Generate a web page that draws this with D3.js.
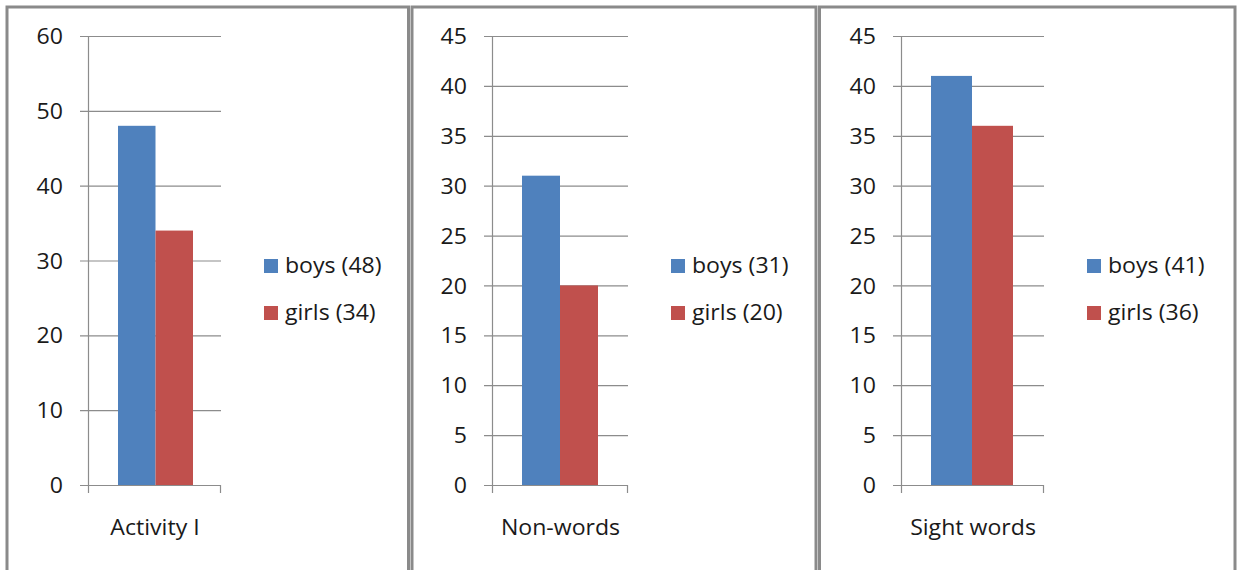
<!DOCTYPE html>
<html>
<head>
<meta charset="utf-8">
<script src="https://cdn.jsdelivr.net/npm/d3@7"></script>
<style>
  html, body { margin: 0; padding: 0; background: #fff; }
  svg text { font-family: "Open Sans", Lato, sans-serif; fill: #1a1a1a; }
</style>
</head>
<body>
<svg id="chart" width="1239" height="570"></svg>
<script>
// Reading test results, boys vs girls, per activity
const activities = ["Activity I", "Non-words", "Sight words"];
const boys = [48, 31, 41];
const girls = [34, 20, 36];
const yMax = [60, 45, 45];
const yStep = [10, 5, 5];
const seriesNames = ["boys", "girls"];
const seriesColors = ["#4F81BD", "#C0504D"];

// panel frame and plot geometry
const panels = [
  { x0: 7, x1: 408.5, axisX: 88, plotR: 221, barL: 118, barW: 37.5, legX: 264 },
  { x0: 412, x1: 816, axisX: 492, plotR: 628, barL: 522, barW: 38, legX: 671 },
  { x0: 819.5, x1: 1235, axisX: 901, plotR: 1044, barL: 931, barW: 41, legX: 1087 }
];
const plotTop = 36, plotBottom = 485;
const FS = 21;          // label font size
const SX = 1.1;         // slightly wide lettering

const svg = d3.select("#chart");

function label(g, x, y, txt, anchor) {
  return g.append("text")
    .attr("transform", `translate(${x},${y}) scale(${SX},1)`)
    .attr("text-anchor", anchor || "start")
    .attr("font-size", FS)
    .text(txt);
}

panels.forEach((p, i) => {
  const g = svg.append("g");

  // frame
  g.append("rect")
    .attr("x", p.x0).attr("y", 7)
    .attr("width", p.x1 - p.x0).attr("height", 600)
    .attr("fill", "#fff").attr("stroke", "#8a8a8a").attr("stroke-width", 3);

  const y = d3.scaleLinear().domain([0, yMax[i]]).range([plotBottom, plotTop]);
  const ticks = d3.range(0, yMax[i] + 0.001, yStep[i]);

  const x = d3.scaleBand().domain(seriesNames)
    .range([p.barL, p.barL + 2 * p.barW]).padding(0);

  // gridlines
  g.selectAll("line.grid").data(ticks).enter().append("line")
    .attr("x1", p.axisX - 8).attr("x2", p.plotR)
    .attr("y1", d => y(d) + 0.5).attr("y2", d => y(d) + 0.5)
    .attr("stroke", "#8c8c8c").attr("stroke-width", 1.2);

  // tick labels
  const yAxis = d3.axisLeft(y).tickValues(ticks).tickSize(0).tickPadding(0);
  const ya = g.append("g").attr("transform", `translate(${p.axisX - 25},0)`).call(yAxis);
  ya.select(".domain").remove();
  ya.selectAll("text")
    .attr("font-size", FS).attr("fill", "#1a1a1a")
    .attr("font-family", "'Open Sans', Lato, sans-serif")
    .attr("x", 0).attr("dy", "0.36em")
    .attr("transform", `scale(${SX},1)`);

  // bars
  const vals = [boys[i], girls[i]];
  g.selectAll("rect.bar").data(vals).enter().append("rect")
    .attr("x", (d, k) => x(seriesNames[k]))
    .attr("y", d => y(d))
    .attr("width", x.bandwidth())
    .attr("height", d => y(0) - y(d))
    .attr("fill", (d, k) => seriesColors[k]);

  // vertical axis line
  g.append("line")
    .attr("x1", p.axisX + 0.5).attr("x2", p.axisX + 0.5)
    .attr("y1", plotTop).attr("y2", plotBottom + 8)
    .attr("stroke", "#8c8c8c").attr("stroke-width", 1.2);
  // category tick at right edge
  g.append("line")
    .attr("x1", p.plotR - 0.5).attr("x2", p.plotR - 0.5)
    .attr("y1", plotBottom).attr("y2", plotBottom + 8)
    .attr("stroke", "#8c8c8c").attr("stroke-width", 1.2);

  // category label
  label(g, (p.axisX + p.plotR) / 2 + 0.5, 535, activities[i], "middle");

  // legend
  seriesNames.forEach((s, k) => {
    const cy = 266 + k * 47;
    g.append("rect")
      .attr("x", p.legX).attr("y", cy - 7).attr("width", 14).attr("height", 14)
      .attr("fill", seriesColors[k]);
    label(g, p.legX + 21, cy + 7, `${s} (${vals[k]})`);
  });
});
</script>
</body>
</html>
